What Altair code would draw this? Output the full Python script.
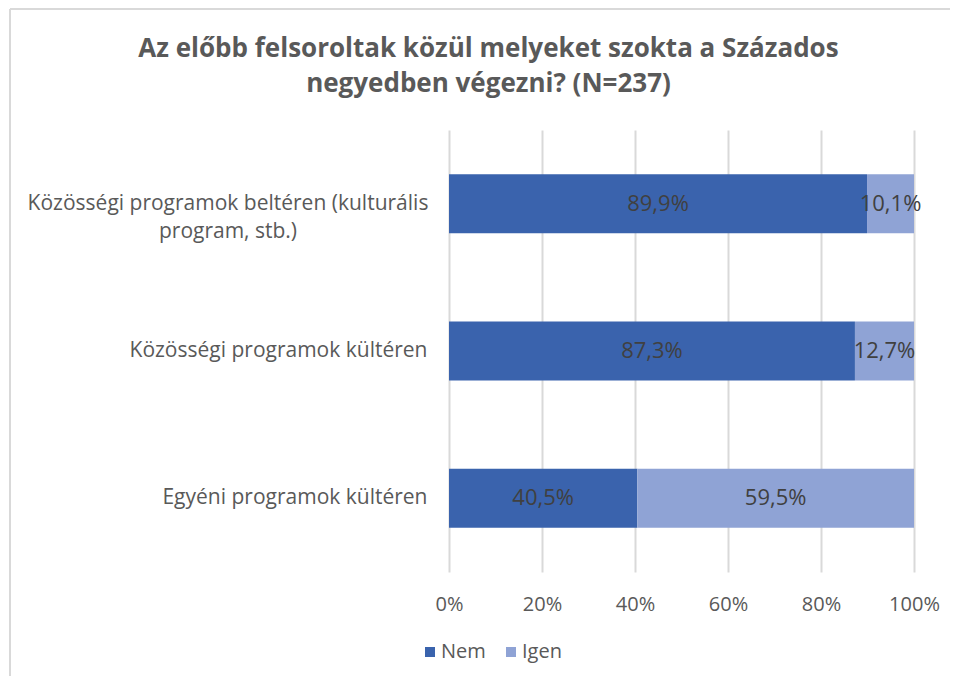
import altair as alt
import pandas as pd

categories = [
    "Közösségi programok beltéren (kulturális program, stb.)",
    "Közösségi programok kültéren",
    "Egyéni programok kültéren",
]
first_label_lines = ["Közösségi programok beltéren (kulturális", "program, stb.)"]
series = ["Nem", "Igen"]
nem_values = [89.9, 87.3, 40.5]
igen_values = [10.1, 12.7, 59.5]
nem_labels = ["89,9%", "87,3%", "40,5%"]
igen_labels = ["10,1%", "12,7%", "59,5%"]
x_ticks = [0, 20, 40, 60, 80, 100]
colors = ["#3A63AD", "#8FA3D5"]
title_lines = ["Az előbb felsoroltak közül melyeket szokta a Százados", "negyedben végezni? (N=237)"]

rows = []
for i, c in enumerate(categories):
    rows.append({"category": c, "series": "Nem", "value": nem_values[i], "label": nem_labels[i], "order": 0})
    rows.append({"category": c, "series": "Igen", "value": igen_values[i], "label": igen_labels[i], "order": 1})
df = pd.DataFrame(rows)

FONT = "Open Sans"
GREY = "#595959"

label_expr = "datum.value == '" + categories[0] + "' ? '' : datum.value"

y_enc = alt.Y(
    "category:N",
    sort=categories,
    scale=alt.Scale(paddingInner=0.6, paddingOuter=0.3),
    axis=alt.Axis(
        title=None, ticks=False, domain=False, labelFontSize=21, labelColor=GREY,
        labelFont=FONT, labelPadding=22, labelExpr=label_expr, labelLimit=600,
    ),
)

base = alt.Chart(df)

bars = base.mark_bar().encode(
    y=y_enc,
    x=alt.X(
        "value:Q",
        stack="zero",
        scale=alt.Scale(domain=[0, 100]),
        axis=alt.Axis(
            values=x_ticks, labelExpr="datum.value + '%'", title=None, domain=False,
            ticks=False, grid=True, gridColor="#D9D9D9", gridWidth=2, labelPadding=22,
            labelFontSize=20, labelColor=GREY, labelFont=FONT, labelFlush=False,
        ),
    ),
    color=alt.Color(
        "series:N",
        scale=alt.Scale(domain=series, range=colors),
        legend=alt.Legend(
            title=None, orient="none", legendX=-29, legendY=512, direction="horizontal",
            symbolType="square", symbolSize=100, symbolStrokeWidth=0, labelFontSize=20,
            labelColor=GREY, labelFont=FONT, columnPadding=15, labelOffset=1,
        ),
    ),
    order=alt.Order("order:Q"),
)

text = (
    base.transform_window(cum="sum(value)", groupby=["category"], sort=[alt.SortField("order")])
    .transform_calculate(mid="datum.cum - datum.value / 2")
    .mark_text(fontSize=22, font=FONT, color="#404040", align="center", baseline="middle")
    .encode(y=alt.Y("category:N", sort=categories), x=alt.X("mid:Q"), text="label:N")
)

first_label = (
    base.transform_filter(alt.datum.category == categories[0])
    .transform_filter(alt.datum.order == 0)
    .mark_text(fontSize=21, font=FONT, color=GREY, align="center", baseline="middle", lineHeight=28)
    .encode(y=alt.Y("category:N", sort=categories), x=alt.value(-221), text=alt.value(first_label_lines))
)

frame_top = alt.Chart(pd.DataFrame({"a": [0]})).mark_rule(color="#D9D9D9", strokeWidth=2).encode(
    x=alt.value(-439), x2=alt.value(520), y=alt.value(-121)
)
frame_left = alt.Chart(pd.DataFrame({"a": [0]})).mark_rule(color="#D9D9D9", strokeWidth=2).encode(
    x=alt.value(-439), y=alt.value(-121), y2=alt.value(560)
)

chart = (
    alt.layer(frame_top, frame_left, bars, text, first_label)
    .properties(
        width=465,
        height=442,
        title=alt.TitleParams(
            text=title_lines,
            anchor="middle", dx=-193, fontSize=26, font=FONT, fontWeight="bold",
            color=GREY, lineHeight=35, offset=-89,
        ),
        autosize=alt.AutoSizeParams(type="none"),
        padding={"left": 441, "top": 122, "right": 36, "bottom": 104},
    )
    .configure_view(stroke=None)
)

chart.save("out.html", embed_options={"renderer": "svg", "actions": False})
